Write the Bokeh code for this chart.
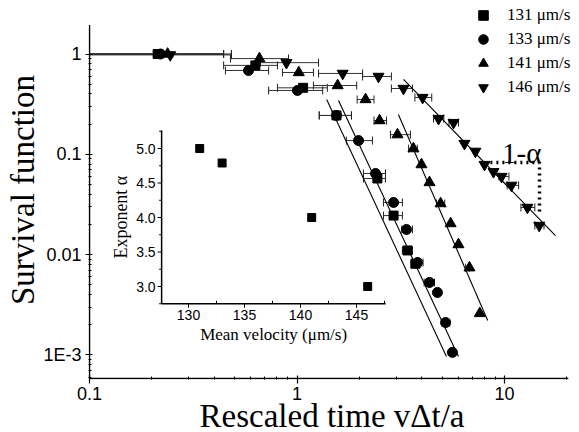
import math
from bokeh.plotting import figure
from bokeh.models import (ColumnDataSource, Whisker, TeeHead, Legend, LegendItem,
                          Range1d, LinearScale, FixedTicker, Title)
from bokeh.core.properties import value
from bokeh.embed import file_html
from bokeh.resources import INLINE

# ---------------- data ----------------
labels = ["131 μm/s", "133 μm/s", "141 μm/s", "146 μm/s"]

x131 = [0.213, 0.63, 1.07, 1.55, 2.44, 2.92, 3.41, 3.72]
y131 = [1.0, 0.77, 0.46, 0.244, 0.0574, 0.0245, 0.011, 0.0081]
lo131 = [0.1, 0.443, 0.805, 1.28, 2.09, 2.61, 3.22, 3.55]
hi131 = [0.443, 0.805, 1.40, 1.83, 2.67, 3.22, 3.60, 3.95]

x133 = [0.22, 0.584, 1.005, 1.55, 1.98, 2.39, 2.92, 3.37, 3.81, 4.35, 4.75, 5.2, 5.61]
y133 = [1.0, 0.685, 0.433, 0.244, 0.137, 0.0644, 0.0331, 0.0178, 0.00834, 0.00527, 0.00419, 0.0021, 0.00106]
lo133 = [0.1, 0.452, 0.73, 1.28, 1.73, 2.09, 2.61, 3.2, 3.6, 4.1, 4.75, 5.0, 5.61]
hi133 = [0.483, 0.73, 1.33, 1.83, 2.31, 2.67, 3.22, 3.6, 4.05, 4.6, 4.75, 5.45, 5.61]

x141 = [0.238, 0.659, 1.02, 1.57, 2.14, 2.50, 3.05, 3.64, 3.98, 4.35, 4.92, 5.5, 6.0, 6.78, 7.6]
y141 = [1.0, 0.90, 0.654, 0.485, 0.352, 0.217, 0.157, 0.114, 0.079, 0.0524, 0.0323, 0.0204, 0.0126, 0.0074, 0.00259]
lo141 = [0.1, 0.478, 0.851, 1.2, 1.95, 2.35, 2.82, 3.45, 3.98, 4.35, 4.7, 5.5, 6.0, 6.5, 7.6]
hi141 = [0.443, 0.91, 1.2, 1.94, 2.35, 2.7, 3.52, 3.8, 3.98, 4.35, 5.15, 5.5, 6.0, 6.78, 7.6]

x146 = [0.245, 0.889, 1.66, 2.47, 3.26, 4.03, 4.81, 5.68, 6.41, 7.24, 8.01, 8.85, 9.68, 10.8, 12.9, 14.7]
y146 = [0.98, 0.82, 0.64, 0.597, 0.453, 0.368, 0.227, 0.207, 0.128, 0.107, 0.079, 0.067, 0.060, 0.049, 0.0295, 0.0195]
lo146 = [0.1, 0.667, 1.27, 2.07, 2.85, 3.7, 4.55, 5.4, 6.41, 7.24, 8.01, 8.85, 9.4, 10.3, 12.0, 14.0]
hi146 = [0.483, 1.27, 2.07, 2.85, 3.6, 4.46, 5.1, 6.0, 6.41, 7.24, 8.01, 8.85, 10.5, 11.7, 14.0, 15.5]

# power-law fit lines (end points)
fit131_x = [1.39, 5.25]
fit131_y = [0.352, 0.000964]
fit133_x = [1.585, 6.0]
fit133_y = [0.344, 0.000964]
fit141_x = [3.08, 8.3]
fit141_y = [0.249, 0.0022]
fit146_x = [3.26, 17.6]
fit146_y = [0.557, 0.0155]

# slope guide (dotted) and its label
slope_x = [8.55, 14.75, 14.75]
slope_y = [0.0828, 0.0828, 0.0257]
slope_label = "1-α"
slope_label_x = 12.1
slope_label_y = 0.104

# main axes
x_lim = [0.1, 20.3]
y_lim = [5.816e-4, 1.95]
x_ticks = [0.1, 1, 10]
x_tick_labels = ["0.1", "1", "10"]
y_ticks = [0.001, 0.01, 0.1, 1]
y_tick_labels = ["1E-3", "0.01", "0.1", "1"]

# inset: exponent alpha vs mean velocity
inset_v = [131, 133, 141, 146]
inset_alpha = [5.0, 4.79, 4.0, 3.0]
inset_xlim = [127.6, 147.6]
inset_ylim = [2.75, 5.26]
inset_xticks = [130, 135, 140, 145]
inset_xminor = [132.5, 137.5, 142.5, 147.5]
inset_yticks = [3.0, 3.5, 4.0, 4.5, 5.0]
inset_yminor = [2.75, 3.25, 3.75, 4.25, 4.75, 5.25]

# ---------------- geometry ----------------
W, H = 579, 432
FL, FR, FT, FB = 88, 575, 0, 379          # frame edges in page pixels
DX, DY = 207.5, 100.3                      # pixels per decade
X0PX, Y1PX = 89, 53.5                      # pixel of x=0.1 and of y=1
FW, FH = FR - FL, FB - FT

xs = 10 ** (-1 + (FL - X0PX) / DX)
xe = 10 ** (-1 + (FR - X0PX) / DX)
ys = 10 ** ((Y1PX - FB) / DY)
ye = 10 ** ((Y1PX - FT) / DY)

p = figure(width=W, height=H, x_axis_type="log", y_axis_type="log",
           x_range=Range1d(xs, xe), y_range=Range1d(ys, ye),
           output_backend="svg", toolbar_location=None,
           min_border_left=FL, min_border_right=W - FR, min_border_top=FT,
           min_border_bottom=H - FB)
p.outline_line_color = None
p.xgrid.visible = False
p.ygrid.visible = False

def minors(decades, top):
    out = []
    for d in decades:
        out += [k * d for k in range(2, 10) if k * d < top]
    return out

p.xaxis.ticker = FixedTicker(ticks=x_ticks, minor_ticks=minors([0.1, 1, 10], x_lim[1]))
p.yaxis.ticker = FixedTicker(ticks=y_ticks, minor_ticks=minors([1e-4, 1e-3, 1e-2, 1e-1], 1))
p.xaxis.major_label_overrides = dict(zip(x_ticks, x_tick_labels))
p.yaxis.major_label_overrides = dict(zip(y_ticks, y_tick_labels))

for ax in (p.xaxis[0], p.yaxis[0]):
    ax.axis_line_color = None
    ax.major_tick_line_width = 1.2
    ax.minor_tick_line_width = 1
    ax.major_label_text_font = "Liberation Sans"
    ax.major_label_text_font_size = "18px"
    ax.major_label_text_color = "black"

p.xaxis.major_tick_in = 4
p.xaxis.major_tick_out = 4
p.xaxis.minor_tick_in = 3
p.xaxis.minor_tick_out = 0
p.yaxis.major_tick_in = 4
p.yaxis.major_tick_out = 3
p.yaxis.minor_tick_in = 3
p.yaxis.minor_tick_out = 0
p.xaxis.major_label_standoff = 3
p.yaxis.major_label_standoff = 4

# axis titles as side-panel titles
ytitle = Title(text="Survival function", align="center", offset=-16, standoff=0,
               text_font="Liberation Serif", text_font_size="33px",
               text_font_style="normal", text_color="black")
xtitle = Title(text="Rescaled time vΔt/a", align="center", offset=6, standoff=-14,
               text_font="Liberation Serif", text_font_size="33px",
               text_font_style="normal", text_color="black")
p.add_layout(ytitle, "left")
p.add_layout(xtitle, "below")

# axis lines (drawn over the axis extent only)
p.segment(x0=[x_lim[0], x_lim[0]], y0=[y_lim[0], y_lim[0]], x1=[x_lim[1], x_lim[0]],
          y1=[y_lim[0], y_lim[1]], line_color="black", line_width=1.5)

# error bars
def add_err(ys_, lo, hi):
    first = dict(base=[ys_[0]], lower=[lo[0]], upper=[hi[0]])
    rest = dict(base=[], lower=[], upper=[])
    for b, l, u in zip(ys_[1:], lo[1:], hi[1:]):
        if u > l:
            rest["base"].append(b); rest["lower"].append(l); rest["upper"].append(u)
    w1 = Whisker(base="base", lower="lower", upper="upper", dimension="width",
                 source=ColumnDataSource(first), line_color="#222", line_width=1,
                 lower_head=None,
                 upper_head=TeeHead(size=8, line_color="#222", line_width=1))
    w2 = Whisker(base="base", lower="lower", upper="upper", dimension="width",
                 source=ColumnDataSource(rest), line_color="#333", line_width=1,
                 lower_head=TeeHead(size=8, line_color="#222", line_width=1),
                 upper_head=TeeHead(size=8, line_color="#222", line_width=1))
    p.add_layout(w1)
    p.add_layout(w2)

add_err(y131, lo131, hi131)
add_err(y133, lo133, hi133)
add_err(y141, lo141, hi141)
add_err(y146, lo146, hi146)

# fit lines
for fx, fy in ((fit131_x, fit131_y), (fit133_x, fit133_y), (fit141_x, fit141_y), (fit146_x, fit146_y)):
    p.line(fx, fy, line_color="black", line_width=1.1)

# markers
r131 = p.scatter(x131, y131, marker="square", size=9, color="black")
r133 = p.scatter(x133, y133, marker="circle", size=10, color="black")
r141 = p.scatter(x141, y141, marker="triangle", size=11, color="black")
r146 = p.scatter(x146, y146, marker="inverted_triangle", size=11, color="black")

# slope guide
p.line(slope_x, slope_y, line_color="black", line_width=3.5, line_dash="2 4")
p.text(x=[slope_label_x], y=[slope_label_y], text=[slope_label],
       text_font=value("Liberation Serif"), text_font_size="29px",
       text_align="center", text_baseline="alphabetic", text_color="black")

# legend
legend = Legend(items=[LegendItem(label=labels[i], renderers=[r]) for i, r in
                       enumerate([r131, r133, r141, r146])],
                location=(471 - FL, FB - 3 - 96), orientation="vertical")
legend.border_line_color = None
legend.background_fill_alpha = 0
legend.padding = 0
legend.margin = 0
legend.spacing = 0
legend.label_height = 24
legend.glyph_height = 24
legend.glyph_width = 24
legend.label_standoff = 12
legend.label_text_font = "Liberation Serif"
legend.label_text_font_size = "17px"
legend.label_text_color = "black"
p.add_layout(legend)

# ---------------- inset (drawn through extra linear scales) ----------------
# inset placement: v=130 at x=188 px, 11.2 px/unit; alpha=5 at y=148 px, 69 px/unit
IPX, IKX, IPY, IKY = 188, 11.2, 148, 69.0
ix0 = 130 + (FL - IPX) / IKX
ix1 = 130 + (FR - IPX) / IKX
iy1 = 5.0 + (IPY - FT) / IKY
iy0 = 5.0 + (IPY - FB) / IKY
p.extra_x_ranges = {"ix": Range1d(ix0, ix1)}
p.extra_x_scales = {"ix": LinearScale()}
p.extra_y_ranges = {"iy": Range1d(iy0, iy1)}
p.extra_y_scales = {"iy": LinearScale()}
ux = 1 / IKX
uy = 1 / IKY
kw = dict(x_range_name="ix", y_range_name="iy")

xa, xb = inset_xlim
ya, yb = inset_ylim
p.segment(x0=[xa, xa], y0=[ya, ya], x1=[xb, xa], y1=[ya, yb],
          line_color="black", line_width=1.5, **kw)
p.segment(x0=inset_xticks, y0=[ya] * len(inset_xticks), x1=inset_xticks,
          y1=[ya - 4 * uy] * len(inset_xticks), line_color="black", line_width=1, **kw)
p.segment(x0=inset_xminor, y0=[ya] * len(inset_xminor), x1=inset_xminor,
          y1=[ya + 3 * uy] * len(inset_xminor), line_color="black", line_width=1, **kw)
p.segment(x0=[xa] * len(inset_yticks), y0=inset_yticks, x1=[xa - 4 * ux] * len(inset_yticks),
          y1=inset_yticks, line_color="black", line_width=1, **kw)
p.segment(x0=[xa] * len(inset_yminor), y0=inset_yminor, x1=[xa - 2.5 * ux] * len(inset_yminor),
          y1=inset_yminor, line_color="black", line_width=1, **kw)
p.text(x=inset_xticks, y=[ya - 6 * uy] * len(inset_xticks), text=[str(t) for t in inset_xticks],
       text_font=value("Liberation Sans"), text_font_size="14px", text_align="center",
       text_baseline="top", text_color="black", **kw)
p.text(x=[xa - 6 * ux] * len(inset_yticks), y=inset_yticks, text=["%.1f" % t for t in inset_yticks],
       text_font=value("Liberation Sans"), text_font_size="14px", text_align="right",
       text_baseline="middle", text_color="black", **kw)
p.text(x=[(xa + xb) / 2], y=[ya - 21 * uy], text=["Mean velocity (μm/s)"],
       text_font=value("Liberation Serif"), text_font_size="17px", text_align="center",
       text_baseline="top", text_color="black", **kw)
p.text(x=[xa - 41 * ux], y=[(ya + yb) / 2], text=["Exponent α"],
       text_font=value("Liberation Serif"), text_font_size="18px", text_align="center",
       text_baseline="middle", angle=math.pi / 2, text_color="black", **kw)
p.scatter(inset_v, inset_alpha, marker="square", size=8, color="black", **kw)

open("out.html", "w").write(file_html(p, INLINE))
